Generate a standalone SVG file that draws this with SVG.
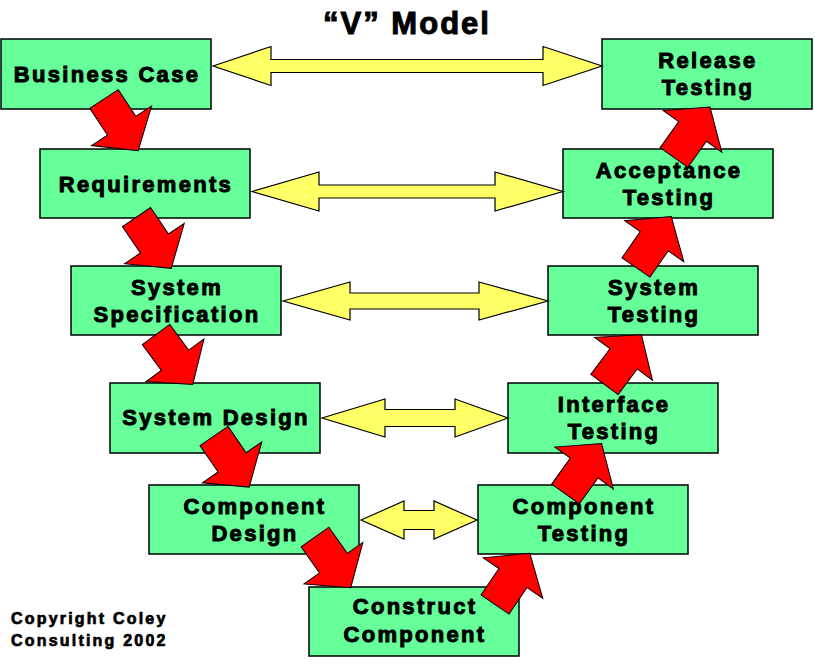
<svg xmlns="http://www.w3.org/2000/svg" width="815" height="664" viewBox="0 0 815 664">
<style>
.box{fill:#66FF99;stroke:#000;stroke-width:1.5}
.lbl{font-family:"Liberation Sans",Arial,sans-serif;font-weight:bold;font-size:22px;letter-spacing:2.3px;text-anchor:middle;fill:#000;stroke:#000;stroke-width:1}
.ttl{font-family:"Liberation Sans",Arial,sans-serif;font-weight:bold;font-size:31px;letter-spacing:2px;text-anchor:middle;fill:#000;stroke:#000;stroke-width:1}
.cpy{font-family:"Liberation Sans",Arial,sans-serif;font-weight:bold;font-size:16px;letter-spacing:2.2px;fill:#000;stroke:#000;stroke-width:0.7}
.ya{fill:#FFFF66;stroke:#000;stroke-width:1.2;stroke-linejoin:miter}
.ra{fill:#FF0000;stroke:#000;stroke-width:1}
</style>
<defs>
<polygon id="red" points="0,-17 32,-17 32,-36 62,0 32,36 32,17 0,17"/>
</defs>
<rect width="815" height="664" fill="#fff"/>
<text class="ttl" x="407" y="34">“V” Model</text>
<g id="business-case"><rect class="box" x="1" y="39" width="210" height="70"/><text class="lbl" x="107" y="82">Business Case</text></g>
<g id="requirements"><rect class="box" x="40" y="149" width="210" height="69"/><text class="lbl" x="146" y="192">Requirements</text></g>
<g id="system-specification"><rect class="box" x="71" y="266" width="210" height="69"/><text class="lbl" x="177" y="295">System</text><text class="lbl" x="177" y="322">Specification</text></g>
<g id="system-design"><rect class="box" x="110" y="383" width="210" height="70"/><text class="lbl" x="216" y="425">System Design</text></g>
<g id="component-design"><rect class="box" x="149" y="485" width="210" height="69"/><text class="lbl" x="255" y="514">Component</text><text class="lbl" x="255" y="541">Design</text></g>
<g id="construct-component"><rect class="box" x="309" y="587" width="210" height="69"/><text class="lbl" x="415" y="614">Construct</text><text class="lbl" x="415" y="642">Component</text></g>
<g id="component-testing"><rect class="box" x="478" y="485" width="210" height="69"/><text class="lbl" x="584" y="514">Component</text><text class="lbl" x="584" y="541">Testing</text></g>
<g id="interface-testing"><rect class="box" x="508" y="383" width="210" height="70"/><text class="lbl" x="614" y="412">Interface</text><text class="lbl" x="614" y="439">Testing</text></g>
<g id="system-testing"><rect class="box" x="548" y="266" width="210" height="69"/><text class="lbl" x="654" y="295">System</text><text class="lbl" x="654" y="322">Testing</text></g>
<g id="acceptance-testing"><rect class="box" x="563" y="149" width="210" height="69"/><text class="lbl" x="669" y="178">Acceptance</text><text class="lbl" x="669" y="205">Testing</text></g>
<g id="release-testing"><rect class="box" x="602" y="39" width="210" height="70"/><text class="lbl" x="708" y="68">Release</text><text class="lbl" x="708" y="95">Testing</text></g>
<g id="connectors">
<polygon class="ya" points="213,66 271,46.5 271,59.5 543,59.5 543,46.5 602,66 543,85.5 543,72.5 271,72.5 271,85.5"/>
<polygon class="ya" points="252,191.5 319,172 319,185 495,185 495,172 563,191.5 495,211 495,198 319,198 319,211"/>
<polygon class="ya" points="283,301 350,282 350,293 479,293 479,282 548,301 479,320 479,309 350,309 350,320"/>
<polygon class="ya" points="322,418 385,399 385,409.5 455,409.5 455,399 508,418 455,437 455,426.5 385,426.5 385,437"/>
<polygon class="ya" points="361,520 404,501 404,510.5 434,510.5 434,501 477,520 434,539 434,529.5 404,529.5 404,539"/>
<use href="#red" class="ra" transform="translate(104,99) rotate(56.6)"/>
<use href="#red" class="ra" transform="translate(136.5,217) rotate(55.9)"/>
<use href="#red" class="ra" transform="translate(156,334.5) rotate(53.6)"/>
<use href="#red" class="ra" transform="translate(214,436) rotate(55.5)"/>
<use href="#red" class="ra" transform="translate(315,537) rotate(54.8)"/>
<use href="#red" class="ra" transform="translate(495,604.5) rotate(-55.8)"/>
<use href="#red" class="ra" transform="translate(565.5,494) rotate(-54.4)"/>
<use href="#red" class="ra" transform="translate(604.5,384.5) rotate(-53.4)"/>
<use href="#red" class="ra" transform="translate(636,267.5) rotate(-55.3)"/>
<use href="#red" class="ra" transform="translate(674,157.5) rotate(-54.5)"/>
</g>
<text class="cpy" x="11" y="624">Copyright Coley</text>
<text class="cpy" x="11" y="646">Consulting 2002</text>
</svg>
